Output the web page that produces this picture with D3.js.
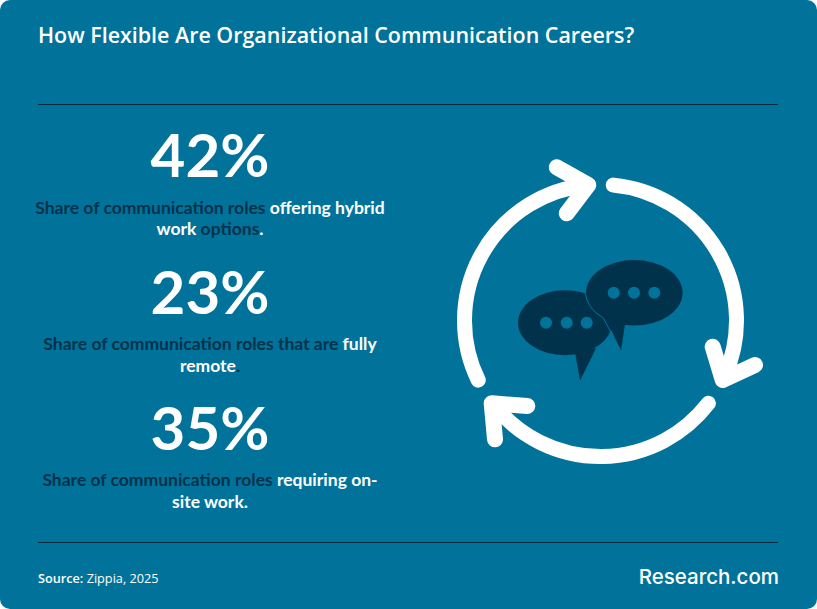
<!DOCTYPE html>
<html><head><meta charset="utf-8">
<script src="https://cdn.jsdelivr.net/npm/d3@7"></script>
<style>html,body{margin:0;padding:0;background:#fff}svg{display:block}</style>
</head><body><svg id="c" width="817" height="609"></svg>
<script>
const title = "How Flexible Are Organizational Communication Careers?";
const values = [42, 23, 35];
const descriptions = [
  [[["Share of communication roles ",0],["offering hybrid",1]],[["work ",1],["options",0],[".",1]]],
  [[["Share of communication roles that are ",0],["fully",1]],[["remote",1],[".",0]]],
  [[["Share of communication roles ",0],["requiring on-",1]],[["site work.",1]]]
];
const valueBaselines = [177, 314, 450];
const descBaselines = [[214, 235], [350, 372], [486, 508]];
const ringAngles = [[-116, -6], [5.4, 114], [127.5, 231]];
const BG = "#01739a", DARK = "#00324b";
const svg = d3.select("#c");
svg.append("rect").attr("width",817).attr("height",609).attr("rx",10).attr("fill",BG);
svg.append("text").attr("x",38).attr("y",43).attr("fill","#fff")
  .attr("font-family","'Open Sans'").attr("font-weight",600).attr("font-size",21.45).text(title);
[104.5,542.5].forEach(y=>svg.append("line").attr("x1",38).attr("x2",778).attr("y1",y).attr("y2",y).attr("stroke","#00263a").attr("stroke-width",1));
const statX = 210;
values.forEach((v,i)=>{
  svg.append("text").attr("x",statX).attr("y",valueBaselines[i]).attr("text-anchor","middle")
    .attr("fill","#fff").attr("font-family","Lato").attr("font-weight",700).attr("font-size",60).text(v+"%");
  descriptions[i].forEach((line,j)=>{
    const t = svg.append("text").attr("x",statX).attr("y",descBaselines[i][j]).attr("text-anchor","middle")
      .attr("font-family","Lato").attr("font-weight",700).attr("font-size",17.5);
    line.forEach(([s,w])=>t.append("tspan").attr("fill",w?"#fff":DARK).attr("xml:space","preserve").text(s));
  });
});
// icon
const cx=600.5, cy=320.5, R=136;
const ic = svg.append("g").attr("transform",`translate(${cx},${cy})`);
const rad = d=>d*Math.PI/180;
const pt = a=>[R*Math.sin(rad(a)),-R*Math.cos(rad(a))];
const line = d3.line();
ringAngles.forEach(([a0,a1])=>{
  const p=d3.path(), s=pt(a0);
  p.moveTo(s[0],s[1]); p.arc(0,0,R,rad(a0-90),rad(a1-90),false);
  ic.append("path").attr("d",p.toString()).attr("fill","none").attr("stroke","#fff").attr("stroke-width",15).attr("stroke-linecap","round");
});
const heads = [
  [[556.7,167.3],[588.3,185],[566.7,213.3]],
  [[712.7,346.7],[722.7,380],[755,365]],
  [[527.3,406],[491.7,403.3],[495,439.3]]
];
heads.forEach(([a,t,b])=>{
  svg.append("path").attr("d",line([a,t,b])).attr("fill","none").attr("stroke","#fff").attr("stroke-width",16)
   .attr("stroke-linecap","round").attr("stroke-linejoin","round");
});
// bubbles
const bub = svg.append("g").attr("fill",DARK);
bub.append("ellipse").attr("cx",565).attr("cy",322.7).attr("rx",47).attr("ry",32.5);
bub.append("path").attr("d",line([[575,352],[580,380.7],[596,348.3]]));
bub.append("ellipse").attr("cx",634.3).attr("cy",292.7).attr("rx",48.3).attr("ry",32.8);
bub.append("path").attr("d",line([[605.7,318.3],[621,351],[625.3,322]]));
svg.append("path").attr("d","M585 291.7 Q587 309 603 317.7 L620.5 350").attr("fill","none").attr("stroke",BG).attr("stroke-width",1);
[[546,322.7],[566.7,322.7],[586.7,322.7],[613.7,292.7],[634,292.7],[654.3,292.7]].forEach(([x,y])=>
  svg.append("circle").attr("cx",x).attr("cy",y).attr("r",6).attr("fill",BG));
// footer
const src = svg.append("text").attr("x",38).attr("y",583).attr("fill","#fff").attr("font-family","'Open Sans'").attr("font-size",12.7);
src.append("tspan").attr("font-weight",600).text("Source:");
src.append("tspan").text(" Zippia, 2025");
svg.append("text").attr("x",779).attr("y",584).attr("text-anchor","end").attr("fill","#fff")
  .attr("font-family","Inter").attr("font-weight",500).attr("font-size",20.5).text("Research.com");
</script></body></html>
